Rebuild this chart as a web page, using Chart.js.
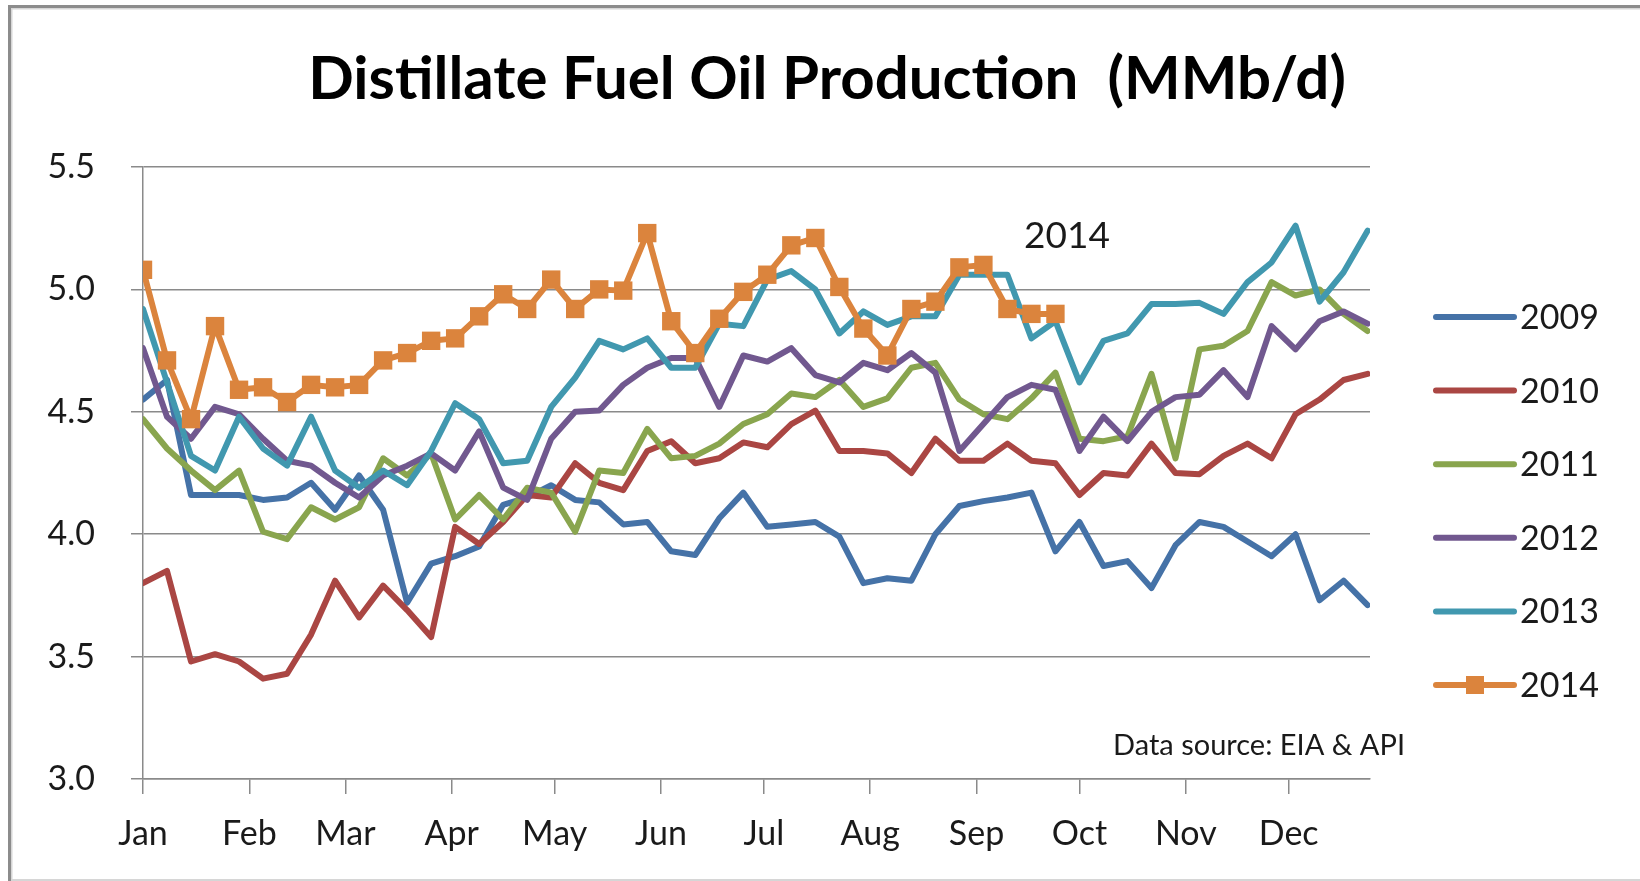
<!DOCTYPE html>
<html>
<head>
<meta charset="utf-8">
<title>Distillate Fuel Oil Production</title>
<script src="https://cdn.jsdelivr.net/npm/chart.js@4.4.1/dist/chart.umd.min.js"></script>
<style>
  html, body { margin: 0; padding: 0; background: #fff; }
  #wrap { width: 1640px; height: 881px; position: relative; }
</style>
</head>
<body>
<div id="wrap"><canvas id="fuelChart"></canvas></div>
<script>
// weekly distillate fuel oil production, MMb/d (week 0 = first week of January)
var years = ['2009', '2010', '2011', '2012', '2013', '2014'];
var colors = ['#4572A7', '#AA4643', '#89A54E', '#71588F', '#4198AF', '#DB843D'];

var y2009 = [4.55, 4.63, 4.16, 4.16, 4.16, 4.14, 4.15, 4.21, 4.10, 4.24, 4.10,
  3.72, 3.88, 3.91, 3.95, 4.12, 4.15, 4.20, 4.14, 4.13, 4.04, 4.05,
  3.93, 3.915, 4.065, 4.17, 4.03, 4.04, 4.05, 3.99, 3.80, 3.82, 3.81,
  4.00, 4.115, 4.135, 4.15, 4.17, 3.93, 4.05, 3.87, 3.89, 3.78,
  3.955, 4.05, 4.03, 3.97, 3.91, 4.00, 3.73, 3.81, 3.71];
var y2010 = [3.80, 3.85, 3.48, 3.51, 3.48, 3.41, 3.43, 3.59, 3.81, 3.66, 3.79,
  3.69, 3.58, 4.03, 3.96, 4.05, 4.16, 4.15, 4.29, 4.21, 4.18, 4.34,
  4.38, 4.29, 4.31, 4.375, 4.355, 4.45, 4.505, 4.34, 4.34, 4.33, 4.25,
  4.39, 4.30, 4.30, 4.37, 4.30, 4.29, 4.16, 4.25, 4.24, 4.37,
  4.25, 4.245, 4.32, 4.37, 4.31, 4.49, 4.55, 4.63, 4.655];
var y2011 = [4.47, 4.35, 4.26, 4.18, 4.26, 4.01, 3.98, 4.11, 4.06, 4.11, 4.31,
  4.24, 4.33, 4.06, 4.16, 4.06, 4.19, 4.17, 4.01, 4.26, 4.25, 4.43,
  4.31, 4.32, 4.37, 4.45, 4.49, 4.575, 4.56, 4.63, 4.52, 4.555, 4.68,
  4.70, 4.55, 4.49, 4.47, 4.555, 4.66, 4.39, 4.38, 4.40, 4.655,
  4.31, 4.755, 4.77, 4.83, 5.03, 4.975, 5.00, 4.90, 4.83];
var y2012 = [4.76, 4.48, 4.39, 4.52, 4.49, 4.39, 4.30, 4.28, 4.21, 4.15, 4.24,
  4.28, 4.33, 4.26, 4.42, 4.19, 4.14, 4.39, 4.50, 4.505, 4.61, 4.68,
  4.72, 4.72, 4.52, 4.73, 4.705, 4.76, 4.65, 4.62, 4.70, 4.67, 4.74,
  4.66, 4.34, 4.45, 4.56, 4.61, 4.59, 4.34, 4.48, 4.38, 4.50,
  4.56, 4.57, 4.67, 4.56, 4.85, 4.755, 4.87, 4.91, 4.86];
var y2013 = [4.92, 4.62, 4.32, 4.26, 4.48, 4.35, 4.28, 4.48, 4.26, 4.19, 4.26,
  4.20, 4.34, 4.535, 4.47, 4.29, 4.30, 4.52, 4.64, 4.79, 4.755, 4.80,
  4.68, 4.68, 4.86, 4.85, 5.04, 5.075, 5.00, 4.82, 4.91, 4.855, 4.89,
  4.89, 5.06, 5.06, 5.06, 4.80, 4.87, 4.62, 4.79, 4.82, 4.94,
  4.94, 4.945, 4.90, 5.03, 5.11, 5.26, 4.95, 5.07, 5.24];
var y2014 = [5.08, 4.71, 4.47, 4.85, 4.59, 4.60, 4.54, 4.61, 4.60, 4.61, 4.71,
  4.74, 4.79, 4.80, 4.89, 4.98, 4.92, 5.04, 4.92, 5.00, 4.995, 5.23,
  4.87, 4.74, 4.88, 4.99, 5.06, 5.18, 5.21, 5.01, 4.84, 4.73, 4.92,
  4.95, 5.09, 5.10, 4.92, 4.90, 4.90];

var series = [y2009, y2010, y2011, y2012, y2013, y2014];

// x axis ticks: first day of each month, counted in weeks
var monthLabels = ['Jan', 'Feb', 'Mar', 'Apr', 'May', 'Jun', 'Jul', 'Aug', 'Sep', 'Oct', 'Nov', 'Dec'];
var monthStartDay = [0, 31, 59, 90, 120, 151, 181, 212, 243, 273, 304, 334];

var gridGray = '#8a8a8a';
var textColor = '#1a1a1a';
var baseFont = 'Lato, "Open Sans", sans-serif';

var datasets = series.map(function (vals, i) {
  var isLast = i === series.length - 1;
  return {
    label: years[i],
    data: vals.map(function (v, w) { return { x: w, y: v }; }),
    borderColor: colors[i],
    backgroundColor: colors[i],
    borderWidth: 6,
    borderJoinStyle: 'round',
    borderCapStyle: 'round',
    tension: 0,
    pointStyle: 'rect',
    pointRadius: isLast ? 13 : 0,
    pointBorderWidth: 0,
    pointBackgroundColor: colors[i],
    order: series.length - i
  };
});

// frame, title, notes and legend drawn around the plot
var decor = {
  id: 'decor',
  beforeDraw: function (chart) {
    var ctx = chart.ctx;
    ctx.save();
    ctx.fillStyle = '#fff';
    ctx.fillRect(0, 0, chart.width, chart.height);
    ctx.fillStyle = '#8c8c8c';
    ctx.fillRect(8, 5, chart.width - 8, 3);
    ctx.fillRect(8, 5, 3, chart.height - 5);
    ctx.fillStyle = '#d6d6d6';
    ctx.fillRect(11, 8, chart.width - 11, 1.5);
    ctx.fillRect(11, 8, 1.5, chart.height - 8);
    ctx.fillRect(11, chart.height - 2, chart.width - 11, 2);
    ctx.restore();
  },
  afterDraw: function (chart) {
    var ctx = chart.ctx;
    ctx.save();
    ctx.fillStyle = '#000';
    ctx.textBaseline = 'middle';

    // title, fitted to its width in the original
    var title = 'Distillate Fuel Oil Production  (MMb/d)';
    var size = 60;
    ctx.font = 'bold ' + size + 'px ' + baseFont;
    size = Math.min(60, size * 1044 / ctx.measureText(title).width);
    ctx.font = 'bold ' + size + 'px ' + baseFont;
    ctx.textAlign = 'center';
    ctx.fillText(title, 827, 80);

    ctx.fillStyle = textColor;
    ctx.font = '37px ' + baseFont;
    ctx.fillText('2014', 1067, 236);

    ctx.font = '29px ' + baseFont;
    ctx.textAlign = 'right';
    ctx.fillText('Data source: EIA & API', 1405, 746);

    // legend
    ctx.textAlign = 'left';
    ctx.font = '34px ' + baseFont;
    chart.data.datasets.forEach(function (ds, i) {
      var y = 317 + i * 73.6;
      ctx.strokeStyle = ds.borderColor;
      ctx.lineWidth = 6;
      ctx.lineCap = 'round';
      ctx.beginPath();
      ctx.moveTo(1436, y);
      ctx.lineTo(1514, y);
      ctx.stroke();
      if (ds.pointRadius > 0) {
        ctx.fillStyle = ds.borderColor;
        ctx.fillRect(1475 - 9, y - 9, 18, 18);
      }
      ctx.fillStyle = textColor;
      ctx.fillText(ds.label, 1520, y + 1);
    });
    ctx.restore();
  }
};

var ctx = document.getElementById('fuelChart').getContext('2d');
var fuelChart = new Chart(ctx, {
  type: 'line',
  data: { datasets: datasets },
  options: {
    responsive: true,
    maintainAspectRatio: false,
    animation: false,
    layout: { padding: { left: 0, top: 167, right: 270, bottom: 0 } },
    plugins: {
      legend: { display: false },
      tooltip: { enabled: false },
      title: { display: false }
    },
    scales: {
      x: {
        type: 'linear',
        min: 0,
        max: 51.1,
        afterBuildTicks: function (axis) {
          axis.ticks = monthStartDay.map(function (d) { return { value: d / 7 }; });
        },
        afterFit: function (axis) { axis.height = 102; },
        ticks: {
          autoSkip: false,
          maxRotation: 0,
          padding: 20,
          color: textColor,
          font: { family: baseFont, size: 34 },
          callback: function (v, i) { return monthLabels[i]; }
        },
        grid: { drawOnChartArea: false, drawTicks: true, tickLength: 15, color: gridGray, lineWidth: 1.5 },
        border: { color: gridGray, width: 1.5 }
      },
      y: {
        min: 3,
        max: 5.5,
        afterFit: function (axis) { axis.width = 143; },
        ticks: {
          stepSize: 0.5,
          padding: 36,
          color: textColor,
          font: { family: baseFont, size: 34 },
          callback: function (v) { return v.toFixed(1); }
        },
        grid: { color: gridGray, lineWidth: 1.5, tickLength: 12 },
        border: { color: gridGray, width: 1.5 }
      }
    }
  },
  plugins: [decor]
});
</script>
</body>
</html>
